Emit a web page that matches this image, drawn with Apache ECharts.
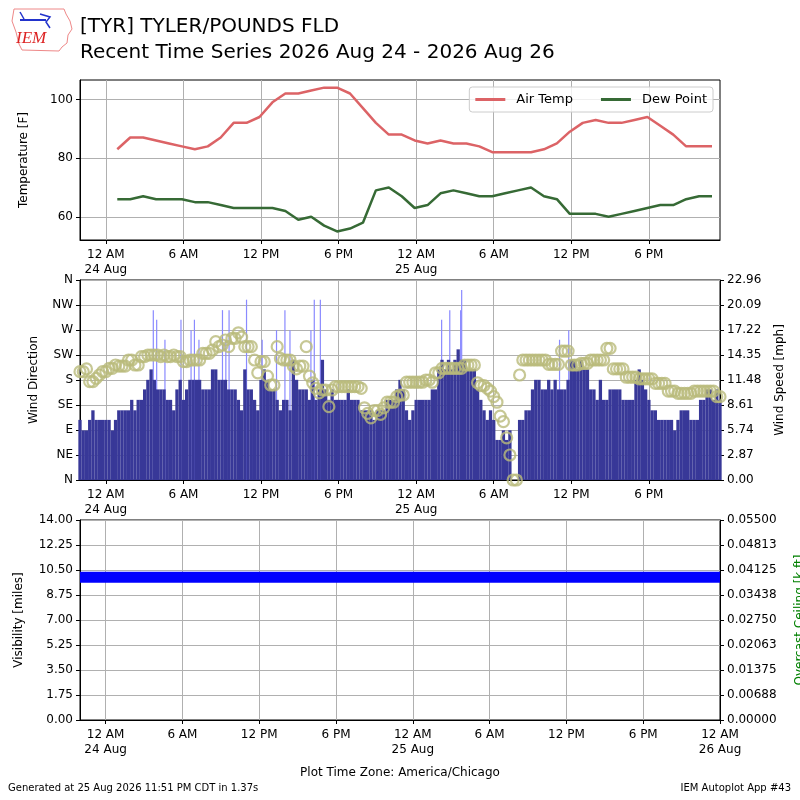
<!DOCTYPE html>
<html>
<head>
<meta charset="utf-8">
<script src="https://cdn.jsdelivr.net/npm/echarts@6/dist/echarts.min.js"></script>
<style>
  html, body { margin: 0; padding: 0; background: #fff; }
  #chart { width: 800px; height: 800px; }
</style>
</head>
<body>
<div id="chart"></div>
<script>
// hourly obs (hours since 24 Aug 00:00 local), first at 00:53
const tempStartHour = 53 / 60
const airTemp = [83, 87, 87, 86, 85, 84, 83, 84, 87, 92, 92, 94, 99, 102, 102, 103, 104, 104, 102, 97, 92, 88, 88,
  86, 85, 86, 85, 85, 84, 82, 82, 82, 82, 83, 85, 89, 92, 93, 92, 92, 93, 94, 91, 88, 84, 84, 84]
const dewPoint = [66, 66, 67, 66, 66, 66, 65, 65, 64, 63, 63, 63, 63, 62, 59, 60, 57, 55, 56, 58, 69, 70, 67,
  63, 64, 68, 69, 68, 67, 67, 68, 69, 70, 67, 66, 61, 61, 61, 60, 61, 62, 63, 64, 64, 66, 67, 67]

// wind every 15 min starting 23 Aug 22:00
const windStartHour = -2
const windStepHour = 0.25
const windSpeed = [
  6.9, 5.7, 5.7, 6.9,   8.0, 6.9, 6.9, 6.9,
  6.9, 6.9, 5.7, 6.9,   8.0, 8.0, 8.0, 8.0,   9.2, 8.0, 9.2, 9.2,   10.4, 11.5, 12.7, 11.5,
  10.4, 10.4, 10.4, 9.2,   9.2, 8.0, 10.4, 11.5,   9.2, 10.4, 11.5, 11.5,   11.5, 11.5, 10.4, 10.4,
  10.4, 12.7, 12.7, 11.5,   11.5, 11.5, 10.4, 10.4,   10.4, 9.2, 8.0, 12.7,   10.4, 10.4, 9.2, 8.0,
  11.5, 12.7, 11.5, 10.4,   10.4, 9.2, 8.0, 9.2,   9.2, 8.0, 13.8, 11.5,   10.4, 10.4, 10.4, 9.2,
  11.5, 9.2, 10.4, 13.8,   10.4, 9.2, 10.4, 9.2,   9.2, 9.2, 9.2, 10.4,   9.2, 9.2, 9.2, 8.0,
  8.0, 8.0, 8.0, 6.9,   8.0, 8.0, 8.0, 9.2,   9.2, 9.2, 10.4, 11.5,   10.4, 8.0, 6.9, 8.0,
  9.2, 9.2, 9.2, 9.2,   9.2, 10.4, 10.4, 12.7,   13.8, 12.7, 13.8, 12.7,   13.8, 15.0, 13.8, 13.8,
  12.7, 12.7, 12.7, 10.4,   9.2, 8.0, 6.9, 8.0,   6.9, 4.6, 4.6, 5.7,   4.6, 5.7, 0, 0,
  6.9, 6.9, 8.0, 8.0,   10.4, 11.5, 11.5, 10.4,   10.4, 11.5, 10.4, 11.5,   10.4, 10.4, 10.4, 11.5,
  13.8, 13.8, 12.7, 13.8,   12.7, 12.7, 10.4, 10.4,   9.2, 11.5, 9.2, 9.2,   10.4, 10.4, 10.4, 10.4,
  9.2, 9.2, 9.2, 9.2,   11.5, 12.7, 11.5, 10.4,   9.2, 8.0, 8.0, 6.9,   6.9, 6.9, 6.9, 6.9,
  5.7, 6.9, 8.0, 8.0,   8.0, 6.9, 6.9, 6.9,   9.2, 9.2, 10.4, 10.4,   9.2, 10.4, 9.2
]
const windDir = [
  195, 195, 200, 177,   177, 183, 189, 195,
  195, 201, 201, 207,   205, 205, 205, 216,   216, 207, 207, 222,   222, 225, 225, 225,
  225, 222, 225, 222,   222, 225, 222, 222,   213, 213, 216, 216,   216, 216, 228, 228,
  228, 234, 249, 240,   243, 252, 240, 255,   255, 265, 257, 240,   240, 240, 216, 193,
  213, 213, 187, 171,   171, 240, 219, 216,   216, 216, 205, 200,   205, 205, 240, 187,
  175, 165, 157, 162,   162, 132, 162, 168,   168, 168, 168, 168,   168, 168, 168, 165,
  130, 120, 112, 125,   125, 118, 130, 140,   140, 140, 150, 153,   153, 176, 176, 176,
  176, 176, 176, 180,   180, 176, 193, 193,   201, 201, 201, 201,   201, 201, 201, 207,
  207, 207, 207, 175,   170, 170, 165, 160,   150, 140, 115, 105,   76, 45, 0, 0,
  189, 216, 216, 216,   216, 216, 216, 216,   216, 208, 208, 208,   208, 232, 232, 232,
  207, 207, 207, 210,   210, 210, 216, 216,   216, 216, 216, 237,   237, 200, 200, 200,
  200, 185, 185, 185,   185, 182, 182, 182,   182, 182, 174, 174,   174, 174, 160, 160,
  160, 156, 156, 156,   156, 156, 160, 160,   160, 160, 160, 160,   160, 150, 150
]
const gustHours = [3.67, 3.93, 4.57, 5.81, 6.59, 6.85, 7.2, 9.02, 9.28, 9.53, 10.88, 12.09, 13.2, 13.85,
  14.24, 15.86, 16.12, 16.59, 25.97, 26.6, 27.44, 27.52, 35.09, 35.8]
const gustSpeed = [19.5, 18.4, 16.1, 18.4, 17.2, 18.4, 16.1, 19.5, 16.1, 19.5, 20.7, 16.1, 17.2, 19.5,
  17.2, 17.2, 20.7, 20.7, 18.4, 19.5, 19.5, 21.8, 16.1, 17.2]

// visibility hourly starting 23 Aug 22:00
const visStartHour = -2
const visibility = [10, 10, 10, 10, 10, 10, 10, 10, 10, 10, 10, 10, 10, 10, 10, 10, 10, 10, 10, 10, 10, 10, 10, 10, 10,
  10, 10, 10, 10, 10, 10, 10, 10, 10, 10, 10, 10, 10, 10, 10, 10, 10, 10, 10, 10, 10, 10, 10, 10, 10, 10]

const hourTicks = [0, 6, 12, 18, 24, 30, 36, 42, 48]
const tempTicks = [60, 80, 100]
const dirLabels = ['N', 'NE', 'E', 'SE', 'S', 'SW', 'W', 'NW', 'N']

const FONT = 'DejaVu Sans'
const GRIDC = '#b0b0b0'

function hourLabel(h) {
  const hh = ((h % 24) + 24) % 24
  if (hh === 0) return '12 AM\n' + (24 + Math.round(h / 24)) + ' Aug'
  if (hh === 6) return '6 AM'
  if (hh === 12) return '12 PM'
  return '6 PM'
}

function xAxisFor(grid, max, show) {
  return {
    type: 'value', gridIndex: grid, min: -2, max: max, show: show,
    axisLine: { onZero: false, lineStyle: { color: '#000' } },
    axisTick: { customValues: hourTicks, length: 4, lineStyle: { color: '#000' } },
    axisLabel: { customValues: hourTicks, formatter: hourLabel, color: '#000', fontFamily: FONT,
      fontSize: 12, lineHeight: 15, margin: 7, showMaxLabel: true },
    splitLine: { show: true, lineStyle: { color: GRIDC } }
  }
}

function yBase(extra) {
  return Object.assign({
    type: 'value',
    axisLine: { show: true, onZero: false, lineStyle: { color: '#000' } },
    axisTick: { show: true, length: 4, lineStyle: { color: '#000' } },
    nameLocation: 'middle', nameRotate: 90,
    nameTextStyle: { color: '#000', fontFamily: FONT, fontSize: 12 },
    splitLine: { show: true, lineStyle: { color: GRIDC } }
  }, extra)
}

const labelStyle = { color: '#000', fontFamily: FONT, fontSize: 12, margin: 7 }

const tempSeries = arr => arr.map((v, i) => [tempStartHour + i, v])
const windSeries = arr => arr.map((v, i) => [windStartHour + i * windStepHour, v])

let chart = echarts.init(document.getElementById('chart'), null, { renderer: 'canvas' })
chart.setOption({
  animation: false,
  backgroundColor: '#fff',
  textStyle: { fontFamily: FONT },
  title: [
    { text: '[TYR] TYLER/POUNDS FLD', left: 80, top: 17, padding: 0,
      textStyle: { fontFamily: FONT, fontSize: 20, fontWeight: 'normal', color: '#000' } },
    { text: 'Recent Time Series 2026 Aug 24 - 2026 Aug 26', left: 80, top: 43, padding: 0,
      textStyle: { fontFamily: FONT, fontSize: 20, fontWeight: 'normal', color: '#000' } },
    { text: 'Plot Time Zone: America/Chicago', left: 'center', top: 767, padding: 0,
      textStyle: { fontFamily: FONT, fontSize: 12, fontWeight: 'normal', color: '#000' } },
    { text: 'Generated at 25 Aug 2026 11:51 PM CDT in 1.37s', left: 8, top: 783, padding: 0,
      textStyle: { fontFamily: FONT, fontSize: 10, fontWeight: 'normal', color: '#000' } },
    { text: 'IEM Autoplot App #43', right: 9, top: 783, padding: 0,
      textStyle: { fontFamily: FONT, fontSize: 10, fontWeight: 'normal', color: '#000' } }
  ],
  graphic: [
    { type: 'polygon', shape: { points: [[14, 9], [64, 9], [66, 14], [70, 21], [72, 29], [68, 35], [67, 43],
      [62, 47], [59, 51], [22, 50], [19, 44], [16, 32], [12, 21]] },
      style: { fill: 'none', stroke: '#e88', lineWidth: 1 } },
    { type: 'polyline', shape: { points: [[20, 20], [46, 20]] }, style: { stroke: '#2233cc', lineWidth: 2 } },
    { type: 'polyline', shape: { points: [[20, 12], [24, 19]] }, style: { stroke: '#2233cc', lineWidth: 1.5 } },
    { type: 'polyline', shape: { points: [[40, 14], [50, 17], [46, 22], [50, 28]] }, style: { fill: 'none', stroke: '#2233cc', lineWidth: 1.5 } },
    { type: 'text', left: 16, top: 30, style: { text: 'IEM', fill: '#dd2222',
      font: 'italic 17px "Liberation Serif", serif' } }
  ],
  legend: {
    data: ['Air Temp', 'Dew Point'], right: 87, top: 87, icon: 'rect',
    orient: 'horizontal', itemWidth: 30, itemHeight: 3, itemGap: 28,
    backgroundColor: 'rgba(255,255,255,0.8)', borderColor: '#ccc', borderWidth: 1, borderRadius: 3,
    padding: [6, 6, 6, 6],
    textStyle: { fontFamily: FONT, fontSize: 13, color: '#000', padding: [0, 0, 0, 6] }
  },
  grid: [
    { left: 80, top: 80, width: 640, height: 160, show: true, borderColor: '#000', borderWidth: 1,
      containLabel: false, outerBoundsMode: 'none' },
    { left: 80, top: 280, width: 640, height: 200, show: true, borderColor: '#000', borderWidth: 1,
      containLabel: false, outerBoundsMode: 'none' },
    { left: 80, top: 520, width: 640, height: 200, show: true, borderColor: '#000', borderWidth: 1,
      containLabel: false, outerBoundsMode: 'none' }
  ],
  xAxis: [
    xAxisFor(0, 47.5, true),
    xAxisFor(1, 47.5, true),
    xAxisFor(1, 47.5, false),
    xAxisFor(2, 48, true)
  ],
  yAxis: [
    yBase({ gridIndex: 0, min: 52.1, max: 106.6, name: 'Temperature [F]', nameGap: 50,
      axisTick: { show: true, customValues: tempTicks, length: 4, lineStyle: { color: '#000' } },
      axisLabel: Object.assign({ customValues: tempTicks }, labelStyle) }),
    yBase({ gridIndex: 1, min: 0, max: 360, interval: 45, name: 'Wind Direction', nameGap: 40,
      axisLabel: Object.assign({ formatter: v => dirLabels[Math.round(v / 45)] }, labelStyle) }),
    yBase({ gridIndex: 1, min: 0, max: 22.96, interval: 2.87, position: 'right', name: 'Wind Speed [mph]',
      nameGap: 54, splitLine: { show: false },
      axisLabel: Object.assign({ formatter: v => (v + 1e-9).toFixed(2) }, labelStyle) }),
    yBase({ gridIndex: 2, min: 0, max: 14, interval: 1.75, name: 'Visibility [miles]', nameGap: 55,
      axisLabel: Object.assign({ formatter: v => (v + 1e-9).toFixed(2) }, labelStyle) }),
    yBase({ gridIndex: 2, min: 0, max: 0.055, interval: 0.006875, position: 'right',
      name: 'Overcast Ceiling [k ft]', nameGap: 74, splitLine: { show: false },
      nameTextStyle: { color: '#008000', fontFamily: FONT, fontSize: 12 },
      axisLabel: Object.assign({ formatter: v => (v + 1e-10).toFixed(5) }, labelStyle) })
  ],
  series: [
    { name: 'Air Temp', type: 'line', xAxisIndex: 0, yAxisIndex: 0, data: tempSeries(airTemp),
      symbol: 'none', lineStyle: { width: 2.5, color: '#dc6366' }, itemStyle: { color: '#dc6366' } },
    { name: 'Dew Point', type: 'line', xAxisIndex: 0, yAxisIndex: 0, data: tempSeries(dewPoint),
      symbol: 'none', lineStyle: { width: 2.5, color: '#366a35' }, itemStyle: { color: '#366a35' } },
    { name: 'Gust', type: 'bar', xAxisIndex: 2, yAxisIndex: 2, barWidth: 1.2, z: 1,
      data: gustHours.map((h, i) => [h, gustSpeed[i]]), itemStyle: { color: '#8a8aff' } },
    { name: 'Wind Speed', type: 'bar', xAxisIndex: 1, yAxisIndex: 2, barWidth: 3.3, z: 2,
      data: windSeries(windSpeed), itemStyle: { color: '#383898' } },
    { name: 'Wind Dir', type: 'scatter', xAxisIndex: 1, yAxisIndex: 1, z: 3, symbol: 'circle', symbolSize: 11,
      data: windSeries(windDir),
      itemStyle: { color: 'rgba(0,0,0,0)', borderColor: '#b9ba7a', borderWidth: 2.2 } },
    { name: 'Visibility', type: 'line', xAxisIndex: 3, yAxisIndex: 3, symbol: 'none',
      data: visibility.map((v, i) => [visStartHour + i, v]),
      lineStyle: { width: 11, color: '#0000ff' } }
  ]
})
</script>
</body>
</html>
